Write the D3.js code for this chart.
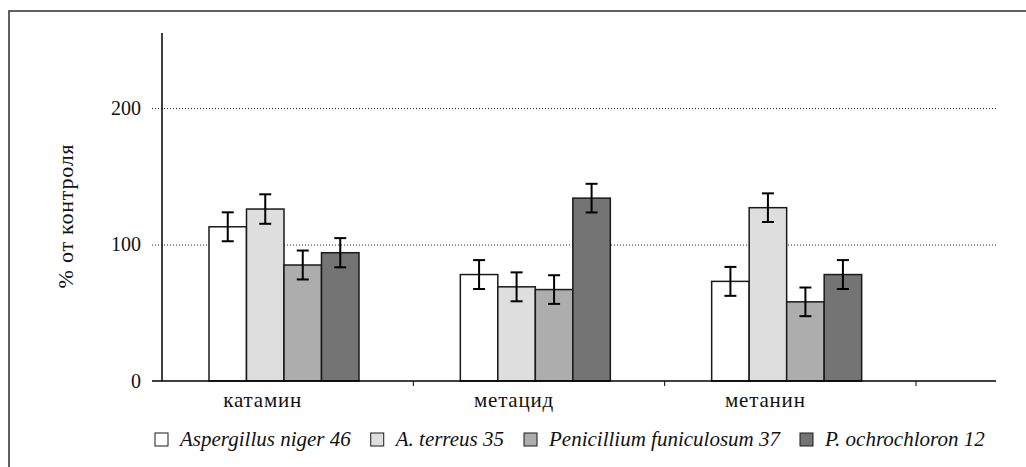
<!DOCTYPE html>
<html>
<head>
<meta charset="utf-8">
<script src="https://cdn.jsdelivr.net/npm/d3@7"></script>
<style>
  body { margin: 0; background: #fff; }
  svg { display: block; }
  svg text { font-family: "Liberation Serif", "DejaVu Serif", serif; fill: #111; }
</style>
</head>
<body>
<div id="chart"></div>
<script>
// categories and series
var categories = ["катамин", "метацид", "метанин"];
var seriesNames = ["Aspergillus niger 46", "A. terreus 35", "Penicillium funiculosum 37", "P. ochrochloron 12"];
var seriesColors = ["#ffffff", "#dedede", "#adadad", "#747474"];

// % of control, per category
var nigerVals = [113, 78, 73];
var terreusVals = [126, 69, 127];
var funiculosumVals = [85, 67, 58];
var ochrochloronVals = [94, 134, 78];

// error (+/-)
var nigerErr = [10.6, 10.6, 10.6];
var terreusErr = [10.8, 10.6, 10.5];
var funiculosumErr = [10.6, 10.5, 10.5];
var ochrochloronErr = [10.7, 10.5, 10.6];

var yTicks = [0, 100, 200];

var allVals = [nigerVals, terreusVals, funiculosumVals, ochrochloronVals];
var allErr = [nigerErr, terreusErr, funiculosumErr, ochrochloronErr];

const width = 1026;
const height = 467;
const plotLeft = 162, axisRight = 996, bandRight = 916;
const plotTop = 33, plotBottom = 381;

const svg = d3.select("#chart")
    .append("svg")
    .attr("width", width)
    .attr("height", height);

// frame (only top and left edges show)
svg.append("rect")
    .attr("x", 9).attr("y", 11)
    .attr("width", 1100).attr("height", 600)
    .attr("fill", "none")
    .attr("stroke", "#3a3a3a")
    .attr("stroke-width", 1.6);

const y = d3.scaleLinear()
    .domain([0, 255])
    .range([plotBottom, plotTop]);

const x = d3.scaleBand()
    .domain(categories)
    .range([plotLeft, bandRight]);

const xSub = d3.scaleBand()
    .domain(seriesNames)
    .range([47, 197]);

// dotted gridlines
svg.append("g")
    .attr("transform", `translate(${axisRight},0)`)
    .call(d3.axisLeft(y).tickValues(yTicks.filter(d => d > 0)).tickSize(axisRight - 152).tickFormat(""))
    .call(g => g.select(".domain").remove())
    .call(g => g.selectAll("line")
        .attr("stroke", "#222")
        .attr("stroke-width", 1)
        .attr("stroke-dasharray", "1,2"));

// y axis labels
svg.append("g")
    .attr("transform", `translate(${plotLeft},0)`)
    .call(d3.axisLeft(y).tickValues(yTicks).tickSize(0).tickPadding(21))
    .call(g => g.select(".domain").remove())
    .call(g => g.selectAll("text")
        .attr("font-family", null)
        .style("font-size", "20px"));

// bars
var groups = svg.selectAll(".cat")
    .data(categories)
    .enter().append("g")
    .attr("class", "cat")
    .attr("transform", d => `translate(${x(d)},0)`);

function rows(c, ci) {
    return seriesNames.map((s, si) => ({ s: s, si: si, v: allVals[si][ci], e: allErr[si][ci] }));
}

groups.selectAll("rect")
    .data(rows)
    .enter().append("rect")
    .attr("x", d => xSub(d.s))
    .attr("y", d => y(d.v))
    .attr("width", xSub.bandwidth())
    .attr("height", d => y(0) - y(d.v))
    .attr("fill", d => seriesColors[d.si])
    .attr("stroke", "#1a1a1a")
    .attr("stroke-width", 1.5);

// error bars
var err = groups.selectAll(".err")
    .data(rows)
    .enter().append("g")
    .attr("class", "err")
    .attr("stroke", "#000")
    .attr("stroke-width", 2);

err.append("line")
    .attr("x1", d => xSub(d.s) + xSub.bandwidth() / 2)
    .attr("x2", d => xSub(d.s) + xSub.bandwidth() / 2)
    .attr("y1", d => y(d.v + d.e))
    .attr("y2", d => y(d.v - d.e));
[1, -1].forEach(function (sgn) {
    err.append("line")
        .attr("x1", d => xSub(d.s) + xSub.bandwidth() / 2 - 6)
        .attr("x2", d => xSub(d.s) + xSub.bandwidth() / 2 + 6)
        .attr("y1", d => y(d.v + sgn * d.e))
        .attr("y2", d => y(d.v + sgn * d.e));
});

// axes lines
svg.append("line")
    .attr("x1", plotLeft).attr("x2", plotLeft)
    .attr("y1", plotTop).attr("y2", plotBottom)
    .attr("stroke", "#000").attr("stroke-width", 1.5);

svg.append("line")
    .attr("x1", 152).attr("x2", axisRight)
    .attr("y1", plotBottom).attr("y2", plotBottom)
    .attr("stroke", "#000").attr("stroke-width", 1.5);

// category boundary ticks
svg.selectAll(".xtick")
    .data(categories)
    .enter().append("line")
    .attr("class", "xtick")
    .attr("x1", d => x(d) + x.bandwidth())
    .attr("x2", d => x(d) + x.bandwidth())
    .attr("y1", plotBottom).attr("y2", plotBottom + 5)
    .attr("stroke", "#000").attr("stroke-width", 1);

// category labels
svg.selectAll(".xlabel")
    .data(categories)
    .enter().append("text")
    .attr("class", "xlabel")
    .attr("x", d => x(d) + x.bandwidth() / 2 - 25)
    .attr("y", 407)
    .attr("text-anchor", "middle")
    .style("font-size", "21px")
    .style("letter-spacing", "0.8px")
    .text(d => d);

// y title
svg.append("text")
    .attr("transform", "translate(73,216) rotate(-90)")
    .attr("text-anchor", "middle")
    .style("font-size", "22px")
    .style("letter-spacing", "0.8px")
    .text("% от контроля");

// legend
var legend = svg.append("g").attr("transform", "translate(155,446)");
var lx = 0;
seriesNames.forEach(function (s, i) {
    var item = legend.append("g").attr("transform", `translate(${lx},0)`);
    item.append("rect")
        .attr("x", 0).attr("y", -13)
        .attr("width", 13).attr("height", 13)
        .attr("fill", seriesColors[i])
        .attr("stroke", "#1a1a1a")
        .attr("stroke-width", 1);
    var t = item.append("text")
        .attr("x", 25).attr("y", 0)
        .style("font-style", "italic")
        .style("font-size", "21px")
        .text(s);
    lx += 25 + t.node().getComputedTextLength() + 20;
});
</script>
</body>
</html>
